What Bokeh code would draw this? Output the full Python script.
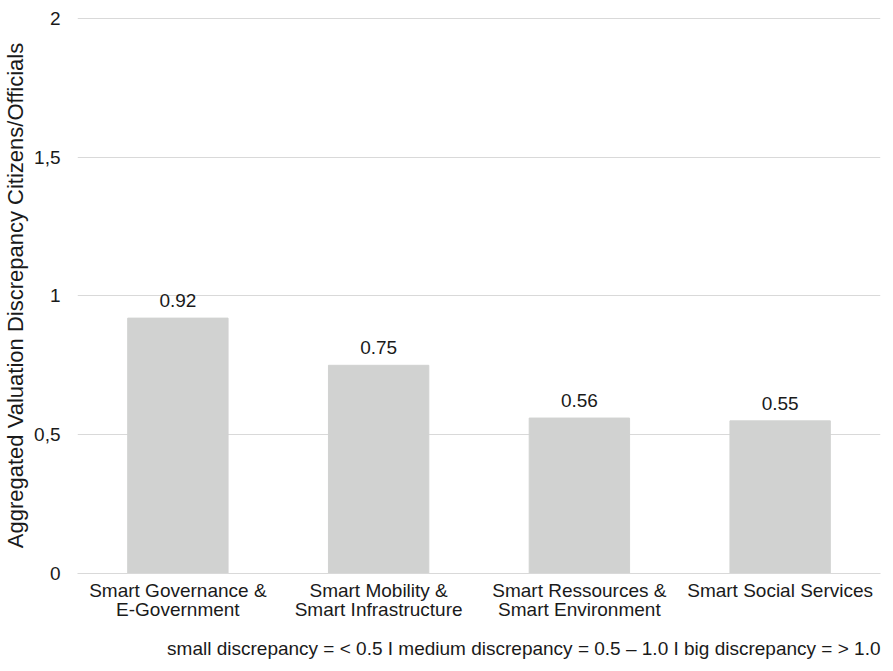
from bokeh.plotting import figure
from bokeh.models import ColumnDataSource, FixedTicker, Title, LabelSet, Range1d
from bokeh.core.properties import value
from bokeh.embed import file_html
from bokeh.resources import INLINE

categories = ["Smart Governance &\nE-Government", "Smart Mobility &\nSmart Infrastructure",
              "Smart Ressources &\nSmart Environment", "Smart Social Services"]
values = [0.92, 0.75, 0.56, 0.55]
value_labels = ["0.92", "0.75", "0.56", "0.55"]
y_ticks = [0, 0.5, 1, 1.5, 2]
y_tick_labels = ["0", "0,5", "1", "1,5", "2"]
footer = "small discrepancy = < 0.5 I medium discrepancy = 0.5 \u2013 1.0 I big discrepancy = > 1.0"
FONT = "Liberation Sans"
TXT = "#1a1a1a"

src = ColumnDataSource(dict(cat=categories, val=values, lab=value_labels))

p = figure(x_range=categories, y_range=Range1d(0, 2.003), width=890, height=670,
           output_backend="svg", toolbar_location=None,
           min_border_left=10, min_border_right=10, min_border_top=17, min_border_bottom=0)
p.vbar(x="cat", top="val", width=0.5, source=src, color="#d1d2d1")
p.add_layout(LabelSet(x="cat", y="val", text="lab", source=src, text_align="center",
                      text_baseline="bottom", y_offset=11, text_font=value(FONT),
                      text_font_size="19px", text_color=TXT))

p.outline_line_color = None
p.xgrid.grid_line_color = None
p.ygrid.grid_line_color = "#d9d9d9"
p.ygrid.grid_line_width = 1

p.yaxis.ticker = FixedTicker(ticks=y_ticks)
p.yaxis.major_label_overrides = {t: l for t, l in zip(y_ticks, y_tick_labels)}
p.yaxis.axis_line_color = None
p.yaxis.major_tick_line_color = None
p.yaxis.minor_tick_line_color = None
p.yaxis.axis_label = "Aggregated Valuation Discrepancy Citizens/Officials"
p.yaxis.axis_label_text_font = FONT
p.yaxis.axis_label_text_font_style = "normal"
p.yaxis.axis_label_text_font_size = "22px"
p.yaxis.axis_label_text_color = TXT
p.yaxis.axis_label_standoff = 3
p.yaxis.major_label_text_font = FONT
p.yaxis.major_label_text_font_size = "19px"
p.yaxis.major_label_text_color = TXT
p.yaxis.major_label_standoff = 11

p.xaxis.axis_line_color = "#d9d9d9"
p.xaxis.major_tick_line_color = None
p.xaxis.minor_tick_line_color = None
p.xaxis.major_label_text_font = FONT
p.xaxis.major_label_text_font_size = "19px"
p.xaxis.major_label_text_color = TXT
p.xaxis.major_label_text_line_height = 0.95
p.xaxis.major_label_standoff = 0

p.add_layout(Title(text=footer, align="right", text_font=FONT, text_font_size="19px",
                   text_font_style="normal", text_color=TXT, standoff=24), "below")

open("out.html", "w").write(file_html(p, INLINE))
